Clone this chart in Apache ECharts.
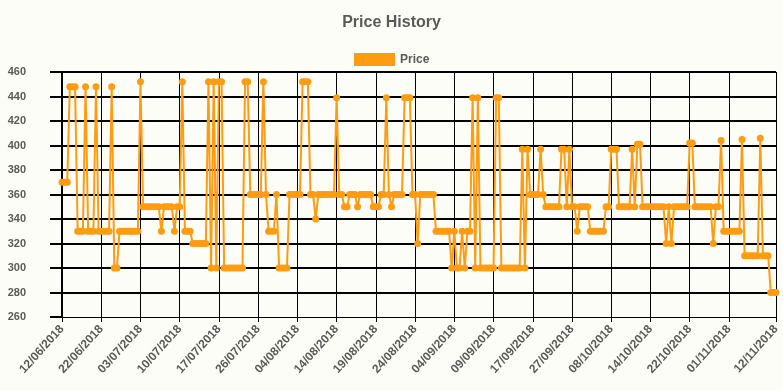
<!DOCTYPE html>
<html>
<head>
<meta charset="utf-8">
<script src="https://cdn.jsdelivr.net/npm/echarts@6/dist/echarts.min.js"></script>
<style>
html,body{margin:0;padding:0;background:#fdfdf8;}
#chart{width:783px;height:391px;}
</style>
</head>
<body>
<div id="chart"></div>
<script>
const tickLabels = ['12/06/2018','22/06/2018','03/07/2018','10/07/2018','17/07/2018','26/07/2018','04/08/2018','14/08/2018','19/08/2018','24/08/2018','04/09/2018','09/09/2018','17/09/2018','27/09/2018','08/10/2018','14/10/2018','22/10/2018','01/11/2018','12/11/2018'];
const tickIndex = [0,15,30,45,60,75,90,105,120,135,150,165,180,195,210,225,240,255,273];
const yTicks = [260,280,300,320,340,360,380,400,420,440,460];
const price = [
370,370,370,448,448,448,330,330,330,448,330,330,330,448,330,
330,330,330,330,448,300,300,330,330,330,330,330,330,330,330,
452,350,350,350,350,350,350,350,330,350,350,350,350,330,350,
350,452,330,330,330,320,320,320,320,320,320,452,300,452,300,
452,452,300,300,300,300,300,300,300,300,452,452,360,360,360,
360,360,452,360,330,330,330,360,300,300,300,300,360,360,360,
360,360,452,452,452,360,360,340,360,360,360,360,360,360,360,
439,360,360,350,350,360,360,360,350,360,360,360,360,360,350,
350,350,360,360,439,360,350,360,360,360,360,439,439,439,360,
360,320,360,360,360,360,360,360,330,330,330,330,330,330,300,
330,300,300,330,300,330,330,439,300,439,300,300,300,300,300,
300,439,439,300,300,300,300,300,300,300,300,397,300,397,360,
360,360,360,397,360,350,350,350,350,350,350,397,397,350,397,
350,350,330,350,350,350,350,330,330,330,330,330,330,350,350,
397,397,397,350,350,350,350,350,397,350,401,401,350,350,350,
350,350,350,350,350,350,320,350,320,350,350,350,350,350,350,
402,402,350,350,350,350,350,350,350,320,350,350,404,330,330,
330,330,330,330,330,405,310,310,310,310,310,310,406,310,310,
310,280,280,280
];
const categories = price.map(function(_, i){
  const k = tickIndex.indexOf(i);
  return k >= 0 ? tickLabels[k] : String(i);
});
const showTick = function(index){ return tickIndex.indexOf(index) >= 0; };
const orange = '#FF9C12';
const textGray = '#5a5a5a';
const font = 'Liberation Sans';

const chart = echarts.init(document.getElementById('chart'), null, {renderer:'canvas'});
chart.setOption({
  backgroundColor: '#fdfdf8',
  animation: false,
  title: {
    text: 'Price History', left: 'center', top: 10,
    textStyle: {fontFamily: font, fontSize: 16, fontWeight: 'bold', color: textGray}
  },
  legend: {
    data: ['Price'], left: 349, top: 48, icon: 'rect',
    itemWidth: 41, itemHeight: 13, itemGap: 10,
    textStyle: {fontFamily: font, fontSize: 12, fontWeight: 'bold', color: textGray}
  },
  grid: {left: 62, right: 7, top: 72, bottom: 74, containLabel: false},
  xAxis: {
    type: 'category', data: categories, boundaryGap: false,
    axisLine: {show: true, lineStyle: {color: '#000', width: 1}},
    axisTick: {show: true, interval: showTick, length: 5, lineStyle: {color: '#000', width: 1}},
    splitLine: {show: true, interval: showTick, lineStyle: {color: '#000', width: 1}},
    axisLabel: {
      interval: showTick, rotate: 48, margin: 10,
      fontFamily: font, fontSize: 12, fontWeight: 'bold', color: textGray
    }
  },
  yAxis: {
    type: 'value', min: yTicks[0], max: yTicks[yTicks.length-1], interval: 20,
    axisLine: {show: true, lineStyle: {color: '#000', width: 2}},
    axisTick: {show: true, length: 12, lineStyle: {color: '#000', width: 2}},
    splitLine: {show: true, showMinLine: false, lineStyle: {color: '#000', width: 2}},
    axisLabel: {margin: 36, fontFamily: font, fontSize: 11, fontWeight: 'bold', color: textGray}
  },
  series: [{
    name: 'Price', type: 'line', data: price,
    symbol: 'circle', symbolSize: 7, showAllSymbol: true,
    color: orange,
    lineStyle: {color: orange, width: 2},
    itemStyle: {color: orange, borderWidth: 0}
  }]
});
</script>
</body>
</html>
